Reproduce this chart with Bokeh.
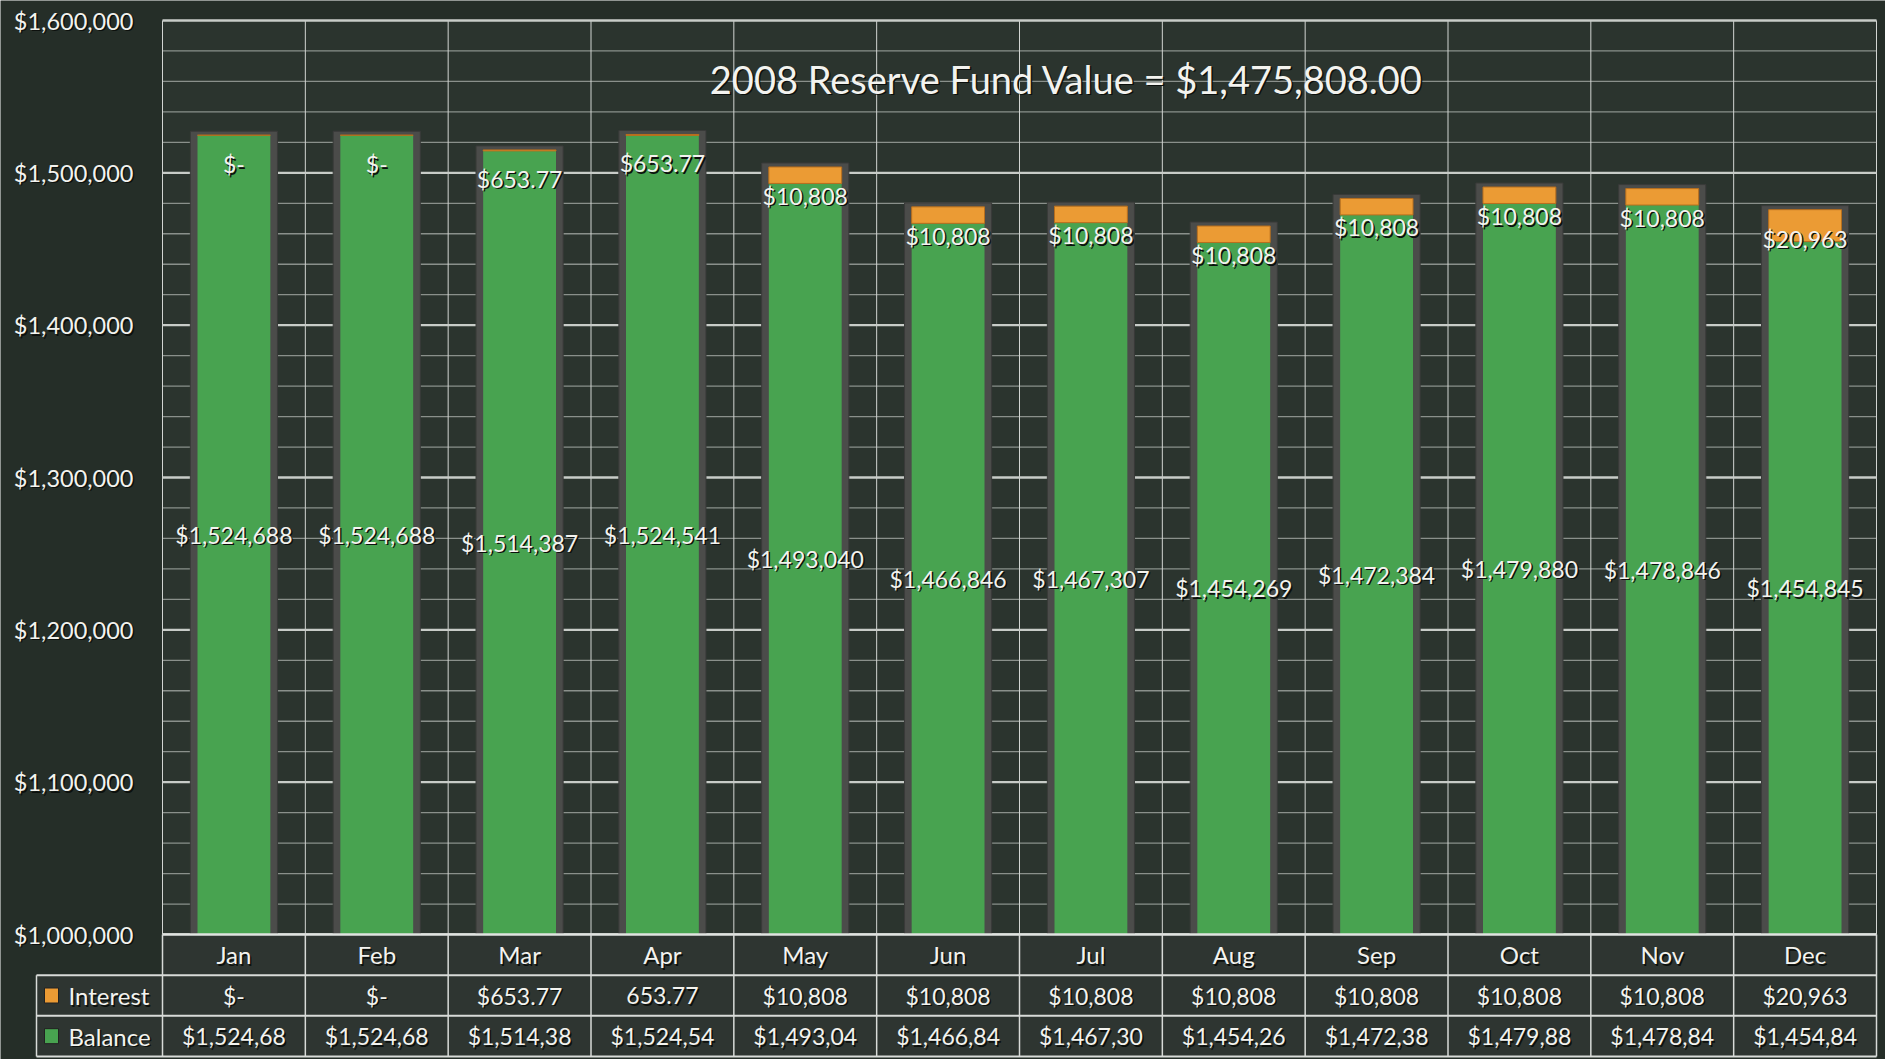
from bokeh.plotting import figure
from bokeh.models import Range1d, ColumnDataSource
from bokeh.core.properties import value
from bokeh.embed import file_html
from bokeh.resources import INLINE

# ---------------- data ----------------
months = ["Jan", "Feb", "Mar", "Apr", "May", "Jun",
          "Jul", "Aug", "Sep", "Oct", "Nov", "Dec"]
balance = [1524688, 1524688, 1514387, 1524541, 1493040, 1466846,
           1467307, 1454269, 1472384, 1479880, 1478846, 1454845]
interest = [0, 0, 653.77, 653.77, 10808, 10808,
            10808, 10808, 10808, 10808, 10808, 20963]
balance_labels = ["$1,524,688", "$1,524,688", "$1,514,387", "$1,524,541",
                  "$1,493,040", "$1,466,846", "$1,467,307", "$1,454,269",
                  "$1,472,384", "$1,479,880", "$1,478,846", "$1,454,845"]
interest_labels = ["$-", "$-", "$653.77", "$653.77", "$10,808", "$10,808",
                   "$10,808", "$10,808", "$10,808", "$10,808", "$10,808", "$20,963"]
table_interest = ["$-", "$-", "$653.77", "653.77", "$10,808", "$10,808",
                  "$10,808", "$10,808", "$10,808", "$10,808", "$10,808", "$20,963"]
table_balance = ["$1,524,68", "$1,524,68", "$1,514,38", "$1,524,54",
                 "$1,493,04", "$1,466,84", "$1,467,30", "$1,454,26",
                 "$1,472,38", "$1,479,88", "$1,478,84", "$1,454,84"]
row_names = ["Interest", "Balance"]
y_ticks = [1000000, 1100000, 1200000, 1300000, 1400000, 1500000, 1600000]
y_tick_labels = ["$1,000,000", "$1,100,000", "$1,200,000", "$1,300,000",
                 "$1,400,000", "$1,500,000", "$1,600,000"]
minor_step = 20000
title_text = "2008 Reserve Fund Value = $1,475,808.00"

# ---------------- layout (page pixels) ----------------
W, H = 1885, 1059
LEFT, TOP = 0, 0
PX_X0, PX_XN = 162, 1876       # plot area left / right
PX_YTOP, PX_YBOT = 20, 934     # y max / y min
PX_TBOT = 1056                 # table bottom
PX_TLEFT = 36                  # table row-header left
YMIN, YMAX = y_ticks[0], y_ticks[-1]
n = len(months)
cat = (PX_XN - PX_X0) / n
ky = (PX_YBOT - PX_YTOP) / (YMAX - YMIN)
row_px = (PX_TBOT - PX_YBOT) / 3


def px2x(px):
    return (px - PX_X0) / cat


def px2y(py):
    return YMAX - (py - PX_YTOP) / ky


def px2t(py):
    return (PX_TBOT - py) / row_px


FONT = value("Lato")
TXT = "#f3f3ef"
SHD = "#0c100d"
BG = "#252e28"
PLOT_BG = "#2b342e"

p = figure(width=W, height=H,
           x_range=Range1d(px2x(LEFT), px2x(LEFT + W)),
           y_range=Range1d(px2y(TOP + H), px2y(TOP)),
           min_border=0, toolbar_location=None, output_backend="svg",
           x_axis_type=None, y_axis_type=None)
p.extra_y_ranges = {"tbl": Range1d(px2t(TOP + H), px2t(TOP))}
p.background_fill_color = BG
p.border_fill_color = BG
p.outline_line_color = None

# plot area background
p.quad(left=[0], right=[n], bottom=[YMIN], top=[YMAX],
       fill_color=PLOT_BG, line_color=None)

# minor grid
minor = [v for v in range(YMIN, YMAX + 1, minor_step) if v not in y_ticks]
p.segment(x0=[0] * len(minor), x1=[n] * len(minor), y0=minor, y1=minor,
          line_color="#8a908b", line_width=1.3)
# vertical category grid
xs = list(range(n + 1))
p.segment(x0=xs, x1=xs, y0=[YMIN] * len(xs), y1=[YMAX] * len(xs),
          line_color="#d2d5d2", line_width=1)
# major grid
p.segment(x0=[0] * len(y_ticks), x1=[n] * len(y_ticks), y0=y_ticks, y1=y_ticks,
          line_color="#c8ccc8", line_width=2.4)

# bars
xc = [i + 0.5 for i in range(n)]
total = [b + i for b, i in zip(balance, interest)]
src = ColumnDataSource(dict(x=xc, bal=balance, tot=total,
                            shadow_top=[t + 4 / ky for t in total],
                            mid=[(YMIN + b) / 2 for b in balance],
                            bl=balance_labels, il=interest_labels,
                            ti=table_interest, tb=table_balance, m=months))
p.vbar(x="x", width=0.61, bottom=YMIN, top="shadow_top", source=src,
       fill_color="#4b4c4a", line_color="#393a39", line_width=1)
p.vbar(x="x", width=0.51, bottom=YMIN, top="bal", source=src,
       fill_color="#48a350", line_color=None)
p.vbar(x="x", width=0.51, bottom="bal", top="tot", source=src,
       fill_color="#eb9b34", line_color="#b86f1e", line_width=1)


def shadow_text(dy=0, **kw):
    p.text(text_color=SHD, x_offset=1.5, y_offset=dy + 1.5, text_font=FONT, **kw)
    p.text(text_color=TXT, text_font=FONT, y_offset=dy, **kw)


# bar labels
shadow_text(x="x", y="mid", text="bl", source=src, text_font_size="23px",
            text_align="center", text_baseline="middle")
shadow_text(dy=29, x="x", y="tot", text="il", source=src, text_font_size="23px",
            text_align="center", text_baseline="middle")

# y tick labels
shadow_text(x=[px2x(133)] * len(y_ticks), y=y_ticks, text=y_tick_labels,
            text_font_size="23.5px", text_align="right", text_baseline="middle")

# title
shadow_text(x=[px2x(1066)], y=[px2y(78)], text=[title_text],
            text_font_size="38px", text_align="center", text_baseline="middle")

# ---------------- data table ----------------
tl = px2x(PX_TLEFT)
p.quad(left=[0, tl], right=[n, n], bottom=[2, 0], top=[3, 2],
       fill_color="#2e3531", line_color=None, y_range_name="tbl")
# lines
p.segment(x0=[tl, tl, tl], x1=[n, n, n], y0=[2, 1, 0], y1=[2, 1, 0],
          line_color="#d8dbd8", line_width=2, y_range_name="tbl")
p.segment(x0=[0], x1=[n], y0=[3], y1=[3],
          line_color="#e0e3e0", line_width=2.5, y_range_name="tbl")
p.segment(x0=xs, x1=xs, y0=[0] * len(xs), y1=[3] * len(xs),
          line_color="#d8dbd8", line_width=1.5, y_range_name="tbl")
p.segment(x0=[tl], x1=[tl], y0=[0], y1=[2],
          line_color="#d8dbd8", line_width=1.5, y_range_name="tbl")

shadow_text(x="x", y=2.5, text="m", source=src, text_font_size="24px",
            text_align="center", text_baseline="middle", y_range_name="tbl")
shadow_text(x="x", y=1.5, text="ti", source=src, text_font_size="23px",
            text_align="center", text_baseline="middle", y_range_name="tbl")
shadow_text(x="x", y=0.5, text="tb", source=src, text_font_size="23px",
            text_align="center", text_baseline="middle", y_range_name="tbl")

# row headers with legend swatches
p.rect(x=[px2x(51)] * 2, y=[1.5, 0.5], width=14, height=15,
       width_units="screen", height_units="screen",
       fill_color=["#eb9b34", "#48a350"], line_color="#222", y_range_name="tbl")
shadow_text(x=[px2x(68)] * 2, y=[1.5, 0.5], text=row_names, text_font_size="24px",
            text_align="left", text_baseline="middle", y_range_name="tbl")

open("out.html", "w").write(file_html(p, INLINE))
